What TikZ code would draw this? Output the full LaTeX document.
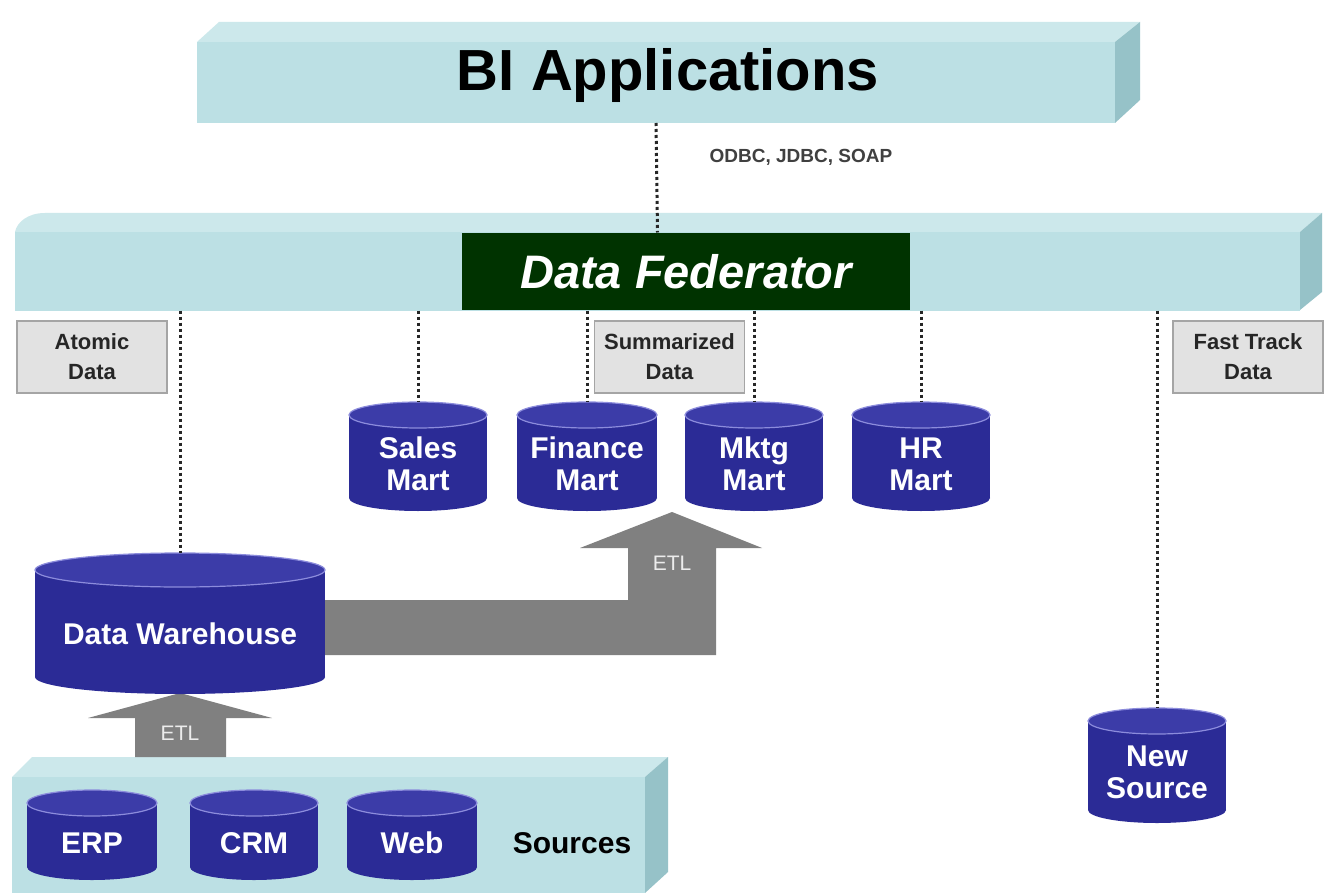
\documentclass[tikz,border=0pt]{standalone}
\usepackage{fontspec}
\setmainfont{Liberation Sans}
\definecolor{barfront}{RGB}{188,224,228}
\definecolor{bartop}{RGB}{204,232,235}
\definecolor{barside}{RGB}{150,194,200}
\definecolor{dbbody}{RGB}{43,43,150}
\definecolor{dbtop}{RGB}{60,60,168}
\definecolor{dbrim}{RGB}{140,140,220}
\definecolor{fedgreen}{RGB}{0,51,0}
\definecolor{etlgray}{RGB}{128,128,128}
\definecolor{lblfill}{RGB}{226,226,226}
\definecolor{lbldraw}{RGB}{165,165,165}
\tikzset{
  barnode/.style={fill=barfront, inner sep=0pt, outer sep=0pt},
  bartopface/.style={fill=bartop},
  barsideface/.style={fill=barside},
  dotline/.style={line width=3pt, dash pattern=on 3pt off 3pt, color=black!85},
  lblbox/.style={fill=lblfill, draw=lbldraw, line width=1.5pt, minimum width=150pt, minimum height=72pt, align=center, font=\fontsize{22}{30}\selectfont\bfseries, text=black!85, inner sep=0pt},
  dbtext/.style={text=white, font=\fontsize{30}{32}\selectfont\bfseries, align=center, inner sep=0pt},
  etlshape/.style={fill=etlgray},
  etltext/.style={text=white!85!gray, font=\fontsize{21}{24}\selectfont, inner sep=0pt}
}
\newcommand\dbcyl[6]{%
  \fill[dbbody] (#2-#5,#3) rectangle (#2+#5,#4);
  \fill[dbbody] (#2,#4) ellipse[x radius=#5, y radius=#6];
  \filldraw[fill=dbtop, draw=dbrim, line width=1.2pt] (#2,#3) ellipse[x radius=#5, y radius=#6];
  \coordinate (#1top) at (#2,#3-#6);
  \coordinate (#1bot) at (#2,#4+#6);
}
\begin{document}
\begin{tikzpicture}[x=1pt,y=-1pt]
\useasboundingbox (0,0) rectangle (1330,893);
\fill[white] (0,0) rectangle (1330,893);

% top bar
\fill[bartopface] (197,42) -- (219,22) -- (1140,22) -- (1115,42) -- cycle;
\fill[barsideface] (1115,42) -- (1140,22) -- (1140,100) -- (1115,123) -- cycle;
\node[barnode, minimum width=918pt, minimum height=81pt] (bi) at (656,82.5) {};
\node[font=\fontsize{58}{60}\selectfont\bfseries, inner sep=0pt] (bitext) at (668,76) {BI Applications};

% middle bar
\fill[bartopface] (15,232) .. controls (17,222) and (28,213) .. (45,213) -- (1322,213) -- (1300,232) -- cycle;
\fill[barsideface] (1300,232) -- (1322,213) -- (1322,292) -- (1300,310) -- cycle;
\node[barnode, minimum width=1285pt, minimum height=78pt] (mid) at (657.5,271.5) {};
\node[fill=fedgreen, minimum width=448pt, minimum height=77pt, inner sep=0pt, text=white, font=\fontsize{47}{50}\selectfont\bfseries\itshape] (fed) at (686,271.5) {Data Federator};

% sources bar
\fill[bartopface] (12,777) -- (32,757) -- (668,757) -- (645,777) -- cycle;
\fill[barsideface] (645,777) -- (668,757) -- (668,872) -- (645,893) -- cycle;
\node[barnode, minimum width=633pt, minimum height=116pt] (src) at (328.5,835) {};
\node[font=\fontsize{30}{32}\selectfont\bfseries, inner sep=0pt] (srctext) at (572,843) {Sources};

% connector top
\draw[dotline] (bi.south) -- (mid.north);
\node[font=\fontsize{19}{22}\selectfont\bfseries, text=black!75, inner sep=0pt] (odbc) at (801,157) {ODBC, JDBC, SOAP};

% labels
\node[lblbox] (atomic) at (92,357) {Atomic\\Data};
\node[lblbox] (summ) at (669.5,357) {Summarized\\Data};
\node[lblbox] (fast) at (1248,357) {Fast Track\\Data};

% ETL arrows
\fill[etlshape] (325,600) -- (628,600) -- (628,548) -- (580,548) -- (672,512) -- (762,548) -- (716,548) -- (716,655) -- (325,655) -- cycle;
\node[etltext] (etl2) at (672,563) {ETL};
\fill[etlshape] (135,757) -- (135,718) -- (88,718) -- (180,693) -- (272,718) -- (226,718) -- (226,757) -- cycle;
\node[etltext] (etl1) at (180,733) {ETL};

% cylinders
\dbcyl{sales}{418}{415}{498}{69}{13}
\node[dbtext] (sales) at (418,464) {Sales\\Mart};
\dbcyl{fin}{587}{415}{498}{70}{13}
\node[dbtext] (fin) at (587,464) {Finance\\Mart};
\dbcyl{mktg}{754}{415}{498}{69}{13}
\node[dbtext] (mktg) at (754,464) {Mktg\\Mart};
\dbcyl{hr}{921}{415}{498}{69}{13}
\node[dbtext] (hr) at (921,464) {HR\\Mart};
\dbcyl{dw}{180}{570}{677}{145}{17}
\node[dbtext] (dw) at (180,634) {Data Warehouse};
\dbcyl{new}{1157}{721}{810}{69}{13}
\node[dbtext] (new) at (1157,772) {New\\Source};
\dbcyl{erp}{92}{803}{867}{65}{13}
\node[dbtext] (erp) at (92,843) {ERP};
\dbcyl{crm}{254}{803}{867}{64}{13}
\node[dbtext] (crm) at (254,843) {CRM};
\dbcyl{web}{412}{803}{867}{65}{13}
\node[dbtext] (web) at (412,843) {Web};

% dotted connectors
\draw[dotline] (mid.south -| dwtop) -- (dwtop);
\draw[dotline] (mid.south -| salestop) -- (salestop);
\draw[dotline] (mid.south -| fintop) -- (fintop);
\draw[dotline] (mid.south -| mktgtop) -- (mktgtop);
\draw[dotline] (mid.south -| hrtop) -- (hrtop);
\draw[dotline] (mid.south -| newtop) -- (newtop);
\end{tikzpicture}
\end{document}
